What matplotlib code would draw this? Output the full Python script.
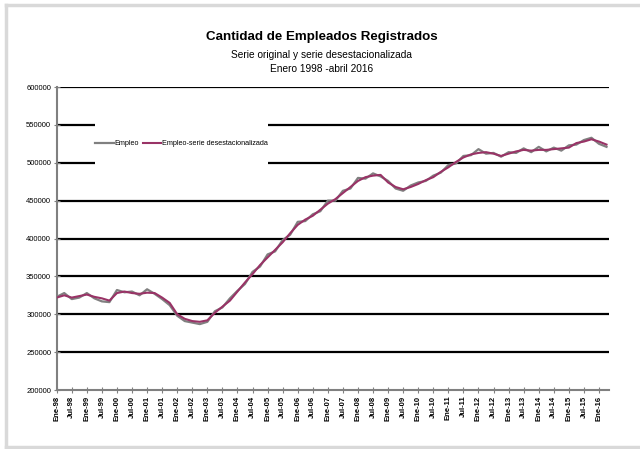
import matplotlib
matplotlib.use("Agg")
import matplotlib.pyplot as plt
from matplotlib.patches import Rectangle
from matplotlib.lines import Line2D
from matplotlib import font_manager
import numpy as np

plt.rcParams['font.family'] = ['Liberation Sans', 'DejaVu Sans']
names = {f.name for f in font_manager.fontManager.ttflist}
narrow = 'Liberation Sans Narrow' if 'Liberation Sans Narrow' in names else 'Liberation Sans'

# Month index since Jan-1998 (quarterly readings, last = Apr-2016)
months = list(range(0, 220, 3))

empleo = [323000, 328000, 320000, 322000,
          328000, 321000, 317000, 316000,
          332000, 329000, 330000, 325000,
          333000, 327000, 320000, 312000,
          298000, 291000, 289000, 287000,
          290000, 304000, 309000, 321000,
          331000, 340000, 356000, 363000,
          379000, 383000, 398000, 405000,
          422000, 423000, 432000, 436000,
          450000, 450000, 463000, 466000,
          480000, 479000, 486000, 482000,
          476000, 466000, 463000, 470000,
          474000, 476000, 483000, 487000,
          497000, 499000, 509000, 510000,
          518000, 512000, 513000, 508000,
          514000, 513000, 519000, 514000,
          521000, 515000, 520000, 516000,
          523000, 524000, 530000, 533000,
          525000, 521000]

desest = [322000, 325000, 322000, 324000,
          326000, 323000, 321000, 318000,
          328000, 330000, 328000, 327000,
          328500, 328000, 322000, 315000,
          300000, 294000, 291000, 290000,
          292000, 302000, 310000, 318000,
          330000, 342000, 353000, 365000,
          375000, 385000, 395000, 407000,
          418000, 425000, 430000, 438000,
          446000, 452000, 460000, 468000,
          476000, 481000, 483000, 484000,
          474000, 468000, 465000, 468000,
          472000, 477000, 481000, 488000,
          494000, 501000, 507000, 511000,
          513000, 514000, 512000, 509000,
          512000, 515000, 517000, 516000,
          517000, 517000, 518000, 519000,
          520000, 526000, 528000, 531000,
          528000, 524000]

years = list(range(98, 100)) + list(range(0, 17))
tick_labels = []
for y in years:
    tick_labels.append("Ene-%02d" % y)
    if y != 16:
        tick_labels.append("Jul-%02d" % y)
tick_pos = list(range(0, 6 * len(tick_labels), 6))

yticks = list(range(200000, 600001, 50000))

fig = plt.figure(figsize=(6.4, 4.49), dpi=100)
# partial outer frame (top, left, bottom) in light gray
W, H = 640.0, 449.0
for (x0, y0, x1, y1) in [(5.5, 4.5, 640, 4.5), (5.5, 4.5, 5.5, 447), (5.5, 447, 640, 447)]:
    fig.add_artist(Line2D([x0 / W, x1 / W], [1 - y0 / H, 1 - y1 / H], transform=fig.transFigure,
                          color='#d9d9d9', linewidth=2.5))

ax = fig.add_axes([0.0886, 0.1314, 0.863, 0.6748])

for yv in yticks[1:]:
    ax.axhline(yv, color='black', linewidth=1.6, zorder=1)

ax.add_patch(Rectangle((0.069, 0.743), 0.314, 0.142, transform=ax.transAxes,
                       facecolor='white', edgecolor='none', zorder=2))

ax.plot(months, empleo, color='#808080', linewidth=1.6, zorder=3, label='Empleo')
ax.plot(months, desest, color='#993366', linewidth=1.5, zorder=4,
        label='Empleo-serie desestacionalizada')

ax.set_xlim(0, 220)
ax.set_ylim(200000, 600000)
ax.set_yticks(yticks)
ax.set_yticklabels([str(v) for v in yticks], fontsize=5.5)
ax.set_xticks(tick_pos)
ax.set_xticklabels(tick_labels, rotation=90, fontsize=5.5, fontweight='bold')
ax.tick_params(axis='both', direction='inout', length=4, width=0.8, color='#808080', pad=2)

for s in ['top', 'right']:
    ax.spines[s].set_visible(False)
for s in ['left', 'bottom']:
    ax.spines[s].set_color('#808080')
    ax.spines[s].set_linewidth(1.5)

leg = ax.legend(loc='center', bbox_to_anchor=(0.226, 0.8135), ncol=2, frameon=False,
                fontsize=5.2, handlelength=2.6, handletextpad=0.1, columnspacing=0.5)
leg.set_zorder(5)

fig.text(0.503, 0.917, 'Cantidad de Empleados Registrados', ha='center', va='center',
         fontsize=11.5 if narrow != 'Liberation Sans' else 9.6, fontweight='bold',
         family=[narrow, 'DejaVu Sans'])
fig.text(0.503, 0.877, 'Serie original y serie desestacionalizada', ha='center', va='center',
         fontsize=8.5 if narrow != 'Liberation Sans' else 7.3, family=[narrow, 'DejaVu Sans'])
fig.text(0.503, 0.846, 'Enero 1998 -abril 2016', ha='center', va='center',
         fontsize=8.5 if narrow != 'Liberation Sans' else 7.3, family=[narrow, 'DejaVu Sans'])

fig.savefig('out.png', dpi=100)
